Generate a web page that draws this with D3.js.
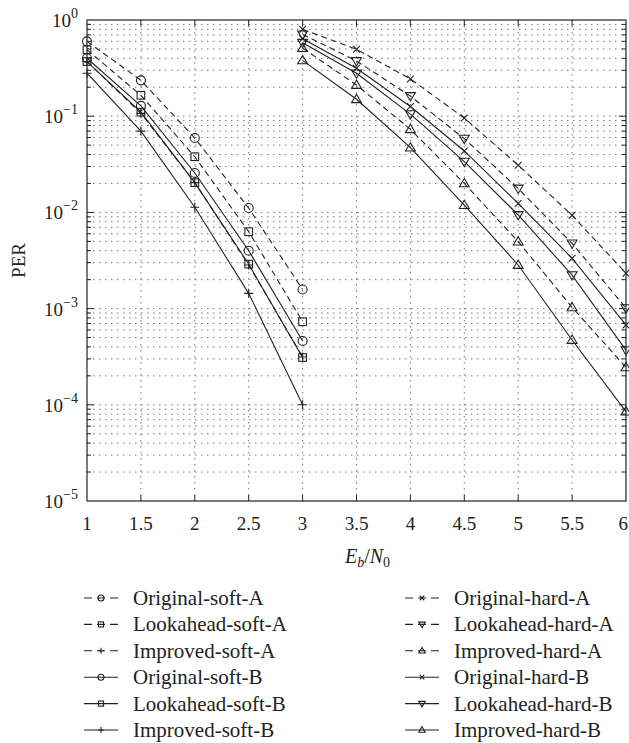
<!DOCTYPE html>
<html>
<head>
<meta charset="utf-8">
<script src="https://cdn.jsdelivr.net/npm/d3@7"></script>
<style>
  body { margin: 0; background: #fff; }
  svg { display: block; font-family: "Liberation Serif", "DejaVu Serif", serif; }
</style>
</head>
<body>
<div id="chart"></div>
<script>
// x values
const softX = [1, 1.5, 2, 2.5, 3];
const hardX = [3, 3.5, 4, 4.5, 5, 5.5, 6];

// PER values
const originalSoftA  = [0.60, 0.236, 0.0593, 0.0111, 0.00158];
const lookaheadSoftA = [0.49, 0.165, 0.0379, 0.0063, 0.00073];
const improvedSoftA  = [0.37, 0.107, 0.0204, 0.00284, 0.000314];
const originalSoftB  = [0.40, 0.128, 0.0257, 0.0040, 0.00046];
const lookaheadSoftB = [0.37, 0.110, 0.0204, 0.0029, 0.00031];
const improvedSoftB  = [0.28, 0.070, 0.0113, 0.00144, 0.0001];

const originalHardA  = [0.80, 0.496, 0.244, 0.0958, 0.0309, 0.00933, 0.00233];
const lookaheadHardA = [0.71, 0.375, 0.162, 0.0584, 0.0177, 0.00477, 0.00101];
const improvedHardA  = [0.51, 0.211, 0.0731, 0.0200, 0.00497, 0.00103, 0.000245];
const originalHardB  = [0.64, 0.315, 0.126, 0.0435, 0.0124, 0.00333, 0.000676];
const lookaheadHardB = [0.58, 0.279, 0.105, 0.0337, 0.0094, 0.00223, 0.00037];
const improvedHardB  = [0.38, 0.150, 0.0471, 0.0119, 0.00284, 0.000472, 0.0000849];

const xTicks = [1, 1.5, 2, 2.5, 3, 3.5, 4, 4.5, 5, 5.5, 6];
const yExponents = [0, -1, -2, -3, -4, -5];

const series = [
  {name: "Original-soft-A",  x: softX, y: originalSoftA,  dash: true,  mark: "circle"},
  {name: "Lookahead-soft-A", x: softX, y: lookaheadSoftA, dash: true,  mark: "square"},
  {name: "Improved-soft-A",  x: softX, y: improvedSoftA,  dash: true,  mark: "plus"},
  {name: "Original-soft-B",  x: softX, y: originalSoftB,  dash: false, mark: "circle"},
  {name: "Lookahead-soft-B", x: softX, y: lookaheadSoftB, dash: false, mark: "square"},
  {name: "Improved-soft-B",  x: softX, y: improvedSoftB,  dash: false, mark: "plus"},
  {name: "Original-hard-A",  x: hardX, y: originalHardA,  dash: true,  mark: "cross"},
  {name: "Lookahead-hard-A", x: hardX, y: lookaheadHardA, dash: true,  mark: "tridown"},
  {name: "Improved-hard-A",  x: hardX, y: improvedHardA,  dash: true,  mark: "triup"},
  {name: "Original-hard-B",  x: hardX, y: originalHardB,  dash: false, mark: "cross"},
  {name: "Lookahead-hard-B", x: hardX, y: lookaheadHardB, dash: false, mark: "tridown"},
  {name: "Improved-hard-B",  x: hardX, y: improvedHardB,  dash: false, mark: "triup"}
];

const W = 629, H = 743;
const margin = {top: 20, right: 3, bottom: 242, left: 87};
const ink = "#222";

const x = d3.scaleLinear().domain([1, 6]).range([margin.left, W - margin.right]);
const y = d3.scaleLog().domain([1e-5, 1]).range([H - margin.bottom, margin.top]);

const svg = d3.select("#chart").append("svg")
    .attr("width", W)
    .attr("height", H);

svg.append("rect").attr("width", W).attr("height", H).attr("fill", "#fff");

// minor + major y values for grid
let yGrid = [];
for (let e = -5; e < 0; e++) {
  for (let m = 1; m < 10; m++) yGrid.push(m * Math.pow(10, e));
}
const yInner = yGrid.filter(v => v > 1e-5 && v < 1);

const grid = svg.append("g");
grid.selectAll(".gy")
  .data(yInner)
  .enter().append("line")
    .attr("x1", x(1)).attr("x2", x(6))
    .attr("y1", d => y(d)).attr("y2", d => y(d))
    .attr("stroke", "#777").attr("stroke-width", 1)
    .attr("stroke-dasharray", "1.5,4.5");
grid.selectAll(".gx")
  .data(xTicks.slice(1, -1))
  .enter().append("line")
    .attr("x1", d => x(d)).attr("x2", d => x(d))
    .attr("y1", y(1)).attr("y2", y(1e-5))
    .attr("stroke", "#777").attr("stroke-width", 1)
    .attr("stroke-dasharray", "1.5,4.5");

// axes: ticks inward
const ax = svg.append("g").attr("stroke", ink).attr("fill", "none");
ax.append("rect")
  .attr("x", x(1)).attr("y", y(1))
  .attr("width", x(6) - x(1)).attr("height", y(1e-5) - y(1))
  .attr("stroke-width", 1.2);

ax.selectAll(".ty")
  .data(yInner)
  .enter().append("g")
  .each(function(d) {
    const major = Math.abs(Math.log10(d) - Math.round(Math.log10(d))) < 1e-9;
    const len = major ? 7 : 4;
    d3.select(this).append("line")
      .attr("x1", x(1)).attr("x2", x(1) + len).attr("y1", y(d)).attr("y2", y(d));
    d3.select(this).append("line")
      .attr("x1", x(6)).attr("x2", x(6) - len).attr("y1", y(d)).attr("y2", y(d));
  });

ax.selectAll(".tx")
  .data(xTicks.slice(1, -1))
  .enter().append("g")
  .each(function(d) {
    d3.select(this).append("line")
      .attr("x1", x(d)).attr("x2", x(d)).attr("y1", y(1)).attr("y2", y(1) + 6);
    d3.select(this).append("line")
      .attr("x1", x(d)).attr("x2", x(d)).attr("y1", y(1e-5)).attr("y2", y(1e-5) - 6);
  });

// tick labels (last one pulled in so it stays on the page)
svg.append("g").selectAll("text")
  .data(xTicks)
  .enter().append("text")
    .attr("x", d => d === 6 ? W - 1 : x(d))
    .attr("y", y(1e-5) + 29)
    .attr("text-anchor", d => d === 6 ? "end" : "middle")
    .attr("font-size", 19)
    .attr("fill", ink)
    .text(d => d);

const yl = svg.append("g").selectAll("text")
  .data(yExponents)
  .enter().append("text")
    .attr("x", x(1) - 9)
    .attr("y", d => y(Math.pow(10, d)) + 7)
    .attr("text-anchor", "end")
    .attr("font-size", 19)
    .attr("fill", ink);
yl.append("tspan").text("10");
yl.append("tspan")
  .attr("dy", -9)
  .attr("font-size", 14)
  .text(d => d === 0 ? "0" : "\u2212" + Math.abs(d));

svg.append("text")
  .attr("transform", `translate(25,${(y(1) + y(1e-5)) / 2}) rotate(-90)`)
  .attr("text-anchor", "middle")
  .attr("font-size", 19)
  .attr("fill", ink)
  .text("PER");

const xl = svg.append("text")
  .attr("x", (x(1) + x(6)) / 2 + 11)
  .attr("y", y(1e-5) + 62)
  .attr("text-anchor", "middle")
  .attr("font-size", 20)
  .attr("font-style", "italic")
  .attr("fill", ink);
xl.append("tspan").text("E");
xl.append("tspan").attr("font-size", 14).attr("dy", 4).text("b");
xl.append("tspan").attr("dy", -4).attr("font-style", "normal").text("/");
xl.append("tspan").text("N");
xl.append("tspan").attr("font-size", 14).attr("dy", 4).attr("font-style", "normal").text("0");

// marker drawing
function drawMarker(g, type, cx, cy, s) {
  const h = s / 2;
  if (type === "circle") {
    g.append("circle").attr("cx", cx).attr("cy", cy).attr("r", h);
  } else if (type === "square") {
    g.append("rect").attr("x", cx - h * 0.85).attr("y", cy - h * 0.85)
      .attr("width", h * 1.7).attr("height", h * 1.7);
  } else if (type === "plus") {
    g.append("path").attr("d", `M${cx - h},${cy}H${cx + h}M${cx},${cy - h}V${cy + h}`);
  } else if (type === "cross") {
    const k = h * 0.75;
    g.append("path").attr("d", `M${cx - k},${cy - k}L${cx + k},${cy + k}M${cx - k},${cy + k}L${cx + k},${cy - k}`);
  } else if (type === "triup") {
    g.append("path").attr("d", `M${cx},${cy - h * 1.1}L${cx + h * 1.1},${cy + h * 0.75}L${cx - h * 1.1},${cy + h * 0.75}Z`);
  } else if (type === "tridown") {
    g.append("path").attr("d", `M${cx},${cy + h * 1.1}L${cx + h * 1.1},${cy - h * 0.75}L${cx - h * 1.1},${cy - h * 0.75}Z`);
  }
}

const line = d3.line().x(d => x(d[0])).y(d => y(d[1]));
const plot = svg.append("g");

series.forEach(s => {
  const pts = s.x.map((v, i) => [v, s.y[i]]);
  plot.append("path")
    .datum(pts)
    .attr("d", line)
    .attr("fill", "none")
    .attr("stroke", ink)
    .attr("stroke-width", 1.1)
    .attr("stroke-dasharray", s.dash ? "6,4" : null);
  const mg = plot.append("g").attr("fill", "none").attr("stroke", ink).attr("stroke-width", 1.1);
  pts.forEach(p => drawMarker(mg, s.mark, x(p[0]), y(p[1]), 9));
});

// legend
const legend = svg.append("g");
series.forEach((s, i) => {
  const col = i < 6 ? 0 : 1;
  const row = i % 6;
  const lx = col === 0 ? 84 : 405;
  const ly = 598 + row * 26.4;
  const g = legend.append("g").attr("fill", "none").attr("stroke", ink).attr("stroke-width", 1.1);
  g.append("line")
    .attr("x1", lx).attr("x2", lx + 34).attr("y1", ly).attr("y2", ly)
    .attr("stroke-dasharray", s.dash ? "8,5,8,5,8" : null);
  drawMarker(g, s.mark, lx + 17, ly, 6);
  legend.append("text")
    .attr("x", lx + 49)
    .attr("y", ly + 7)
    .attr("font-size", 21)
    .attr("fill", ink)
    .text(s.name);
});
</script>
</body>
</html>
